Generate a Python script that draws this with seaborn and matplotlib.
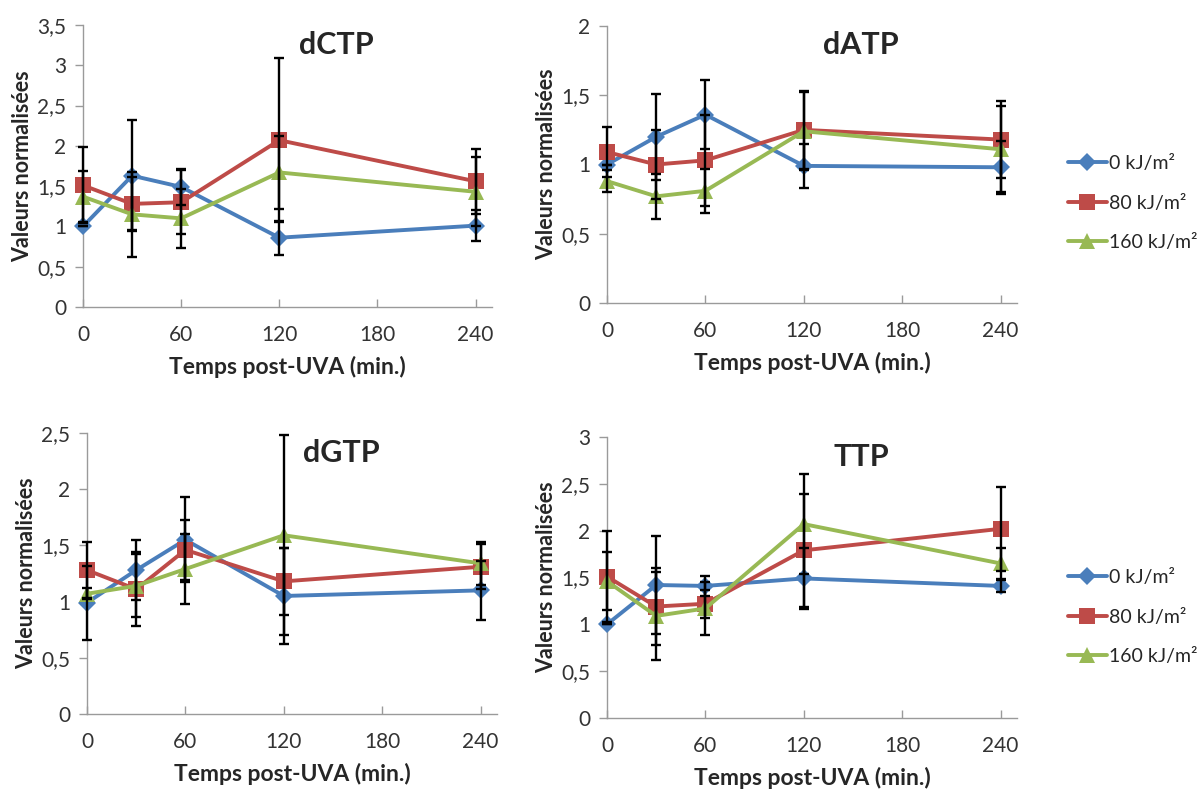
import matplotlib
matplotlib.use('Agg')
import matplotlib.pyplot as plt
from matplotlib.ticker import FuncFormatter, MultipleLocator
import seaborn as sns
import pandas as pd

# temps post-UVA (min.)
times = [0, 30, 60, 120, 240]
doses = ['0 kJ/m²', '80 kJ/m²', '160 kJ/m²']

# dCTP
dctp_0 = [1.00, 1.63, 1.49, 0.86, 1.01]
dctp_80 = [1.51, 1.28, 1.30, 2.07, 1.56]
dctp_160 = [1.37, 1.15, 1.10, 1.67, 1.43]
dctp_0_err = [0.00, 0.69, 0.22, 0.21, 0.19]
dctp_80_err = [0.47, 0.33, 0.40, 1.02, 0.40]
dctp_160_err = [0.32, 0.53, 0.37, 0.45, 0.43]

# dATP
datp_0 = [1.00, 1.20, 1.36, 0.99, 0.98]
datp_80 = [1.09, 1.00, 1.03, 1.25, 1.18]
datp_160 = [0.88, 0.77, 0.81, 1.24, 1.11]
datp_0_err = [0.00, 0.31, 0.25, 0.16, 0.19]
datp_80_err = [0.18, 0.25, 0.33, 0.28, 0.28]
datp_160_err = [0.08, 0.16, 0.16, 0.28, 0.31]

# dGTP
dgtp_0 = [0.99, 1.28, 1.55, 1.05, 1.10]
dgtp_80 = [1.28, 1.11, 1.46, 1.18, 1.31]
dgtp_160 = [1.07, 1.14, 1.29, 1.59, 1.34]
dgtp_0_err = [0.33, 0.27, 0.38, 0.43, 0.26]
dgtp_80_err = [0.25, 0.33, 0.27, 0.30, 0.20]
dgtp_160_err = [0.05, 0.28, 0.31, 0.89, 0.19]

# TTP
ttp_0 = [1.00, 1.42, 1.41, 1.49, 1.41]
ttp_80 = [1.51, 1.19, 1.22, 1.79, 2.02]
ttp_160 = [1.46, 1.09, 1.17, 2.07, 1.65]
ttp_0_err = [0.00, 0.52, 0.11, 0.33, 0.06]
ttp_80_err = [0.49, 0.41, 0.15, 0.60, 0.45]
ttp_160_err = [0.31, 0.47, 0.28, 0.53, 0.17]

panels = [
    ('dCTP', [dctp_0, dctp_80, dctp_160], [dctp_0_err, dctp_80_err, dctp_160_err], 3.5),
    ('dATP', [datp_0, datp_80, datp_160], [datp_0_err, datp_80_err, datp_160_err], 2.0),
    ('dGTP', [dgtp_0, dgtp_80, dgtp_160], [dgtp_0_err, dgtp_80_err, dgtp_160_err], 2.5),
    ('TTP', [ttp_0, ttp_80, ttp_160], [ttp_0_err, ttp_80_err, ttp_160_err], 3.0),
]

colors = ['#4A7EBB', '#BE4B48', '#98B954']
markers = ['D', 's', '^']
msizes = [9, 12, 12]

sns.set_theme(style='white')
plt.rcParams['font.family'] = ['Lato', 'DejaVu Sans']

W, H = 1204, 792
fig = plt.figure(figsize=(W / 100, H / 100), dpi=100)

# axes rectangles in pixels: left, top, right, bottom
rects = [(83, 25, 492, 307), (607, 26, 1017, 303),
         (87, 433, 497, 714), (607, 437, 1017, 718)]

comma = FuncFormatter(lambda v, p: ('%g' % v).replace('.', ','))

axes = []
for (name, series, errs, ymax), (l, t, r, b) in zip(panels, rects):
    ax = fig.add_axes([l / W, 1 - b / H, (r - l) / W, (b - t) / H])
    axes.append(ax)
    for i, dose in enumerate(doses):
        df = pd.DataFrame({'t': times, 'v': series[i]})
        sns.lineplot(data=df, x='t', y='v', ax=ax, color=colors[i], lw=2.8,
                     marker=markers[i], markersize=msizes[i], markeredgewidth=0,
                     label=dose, clip_on=False, zorder=3, legend=False)
    for i in range(3):
        ax.errorbar(times, series[i], yerr=errs[i], fmt='none', ecolor='black',
                    elinewidth=1.7, capsize=3.5, capthick=1.7, zorder=4, clip_on=False)
    ax.set_xlim(0, 250)
    ax.set_ylim(0, ymax)
    ax.xaxis.set_major_locator(MultipleLocator(60))
    ax.yaxis.set_major_locator(MultipleLocator(0.5))
    ax.yaxis.set_major_formatter(comma)
    for s in ['top', 'right']:
        ax.spines[s].set_visible(False)
    for s in ['left', 'bottom']:
        ax.spines[s].set_color('#9a9a9a')
        ax.spines[s].set_linewidth(1.0)
    ax.tick_params(axis='y', direction='out', length=6, width=1, color='#9a9a9a',
                   labelsize=15, labelcolor='#333333', pad=6, left=True)
    ax.tick_params(axis='x', direction='in', length=6, width=1, color='#9a9a9a',
                   labelsize=15, labelcolor='#333333', pad=13, bottom=True)
    ax.set_xlabel('Temps post-UVA (min.)', fontsize=16.5, fontweight='bold', labelpad=8)
    ax.set_ylabel('Valeurs normalisées', fontsize=15.5, fontweight='bold', labelpad=3)
    ax.text(0.62, 0.93, name, transform=ax.transAxes, ha='center', va='center',
            fontsize=22, fontweight='bold')
    ax.grid(False)

handles, labels = axes[0].get_legend_handles_labels()
for yc in (203, 617):
    fig.legend(handles, labels, loc='center left', bbox_to_anchor=(1060 / W, 1 - yc / H),
               frameon=False, fontsize=14, handlelength=2.0, handletextpad=0.1,
               labelspacing=1.15, borderaxespad=0)

fig.savefig('out.png', dpi=100)
